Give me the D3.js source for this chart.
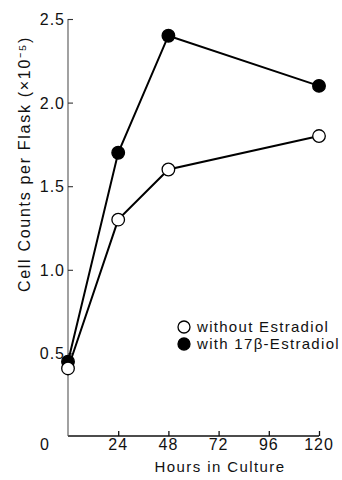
<!doctype html>
<html lang="en">
<head>
    <meta charset="UTF-8">
    <title>Cell Counts</title>
    <style>
        body { margin: 0; background: #fff; }
        text { font-family: "Liberation Sans", Arial, sans-serif; fill: #111; }
    </style>
</head>
<body>
    <svg id="chart" width="342" height="480"></svg>
    <script src="https://d3js.org/d3.v7.min.js"></script>
    <script>
        // data
        let hours = [0, 24, 48, 120];
        let withoutEstradiol = [0.41, 1.3, 1.6, 1.8];
        let withEstradiol = [0.45, 1.7, 2.4, 2.1];
        let xTicks = [24, 48, 72, 96, 120];
        let yTicks = [0.5, 1.0, 1.5, 2.0, 2.5];
        let legendNames = ["without Estradiol", "with 17\u03B2-Estradiol"];

        let svg = d3.select("#chart");

        // scales
        let x = d3.scaleLinear().domain([0, 120]).range([68, 319]);
        let y = d3.scaleLinear().domain([0, 2.5]).range([437, 19]);

        // x axis, ticks pointing up
        let xAxis = svg.append("g")
            .attr("transform", "translate(0,436)")
            .call(d3.axisTop(x).tickValues(xTicks).tickSize(5).tickFormat(""));
        xAxis.select(".domain").attr("d", "M68,0H319").attr("stroke", "#111").attr("stroke-width", 1.6);
        xAxis.selectAll(".tick line").attr("stroke", "#111").attr("stroke-width", 1.3);

        svg.append("g").selectAll("text")
            .data([0].concat(xTicks))
            .enter().append("text")
            .attr("x", d => d === 0 ? 45 : x(d))
            .attr("y", 450)
            .attr("text-anchor", "middle")
            .attr("font-size", "16px")
            .attr("letter-spacing", "1px")
            .text(d => d);

        // y axis, ticks pointing right
        let yAxis = svg.append("g")
            .attr("transform", "translate(68,0)")
            .call(d3.axisRight(y).tickValues(yTicks).tickSize(5).tickFormat(""));
        yAxis.select(".domain").attr("d", "M0,19V436").attr("stroke", "#555").attr("stroke-width", 1.1);
        yAxis.selectAll(".tick line").attr("stroke", "#333").attr("stroke-width", 1.1);

        svg.append("g").selectAll("text")
            .data(yTicks)
            .enter().append("text")
            .attr("x", 65)
            .attr("y", d => y(d) + 6)
            .attr("text-anchor", "end")
            .attr("font-size", "16px")
            .attr("letter-spacing", "1px")
            .text(d => d.toFixed(1));

        // axis titles
        svg.append("text")
            .attr("x", 220)
            .attr("y", 472)
            .attr("text-anchor", "middle")
            .attr("font-size", "15px")
            .attr("letter-spacing", "1.4px")
            .text("Hours in Culture");

        svg.append("text")
            .attr("transform", "translate(30,164) rotate(-90)")
            .attr("text-anchor", "middle")
            .attr("font-size", "16px")
            .attr("letter-spacing", "1.7px")
            .text("Cell Counts per Flask (\u00D710\u207B\u2075)");

        // lines and points
        let line = d3.line()
            .x((d, i) => x(hours[i]))
            .y(d => y(d));

        let series = [
            {values: withEstradiol, fill: "#000"},
            {values: withoutEstradiol, fill: "#fff"}
        ];

        series.forEach(function(s) {
            svg.append("path")
                .datum(s.values)
                .attr("d", line)
                .attr("fill", "none")
                .attr("stroke", "#000")
                .attr("stroke-width", 2);
        });

        series.forEach(function(s) {
            svg.append("g").selectAll("circle")
                .data(s.values)
                .enter().append("circle")
                .attr("cx", (d, i) => x(hours[i]))
                .attr("cy", d => y(d))
                .attr("r", 6.3)
                .attr("fill", s.fill)
                .attr("stroke", "#000")
                .attr("stroke-width", 1.3);
        });

        // legend
        let legend = svg.append("g").attr("transform", "translate(184,327)");
        legend.selectAll("circle")
            .data(["#fff", "#000"])
            .enter().append("circle")
            .attr("cx", 0)
            .attr("cy", (d, i) => i * 17)
            .attr("r", 6)
            .attr("fill", d => d)
            .attr("stroke", "#000")
            .attr("stroke-width", 1.3);
        legend.selectAll("text")
            .data(legendNames)
            .enter().append("text")
            .attr("x", 13)
            .attr("y", (d, i) => i * 17 + 5)
            .attr("font-size", "15px")
            .attr("letter-spacing", "1.3px")
            .text(d => d);
    </script>
</body>
</html>
